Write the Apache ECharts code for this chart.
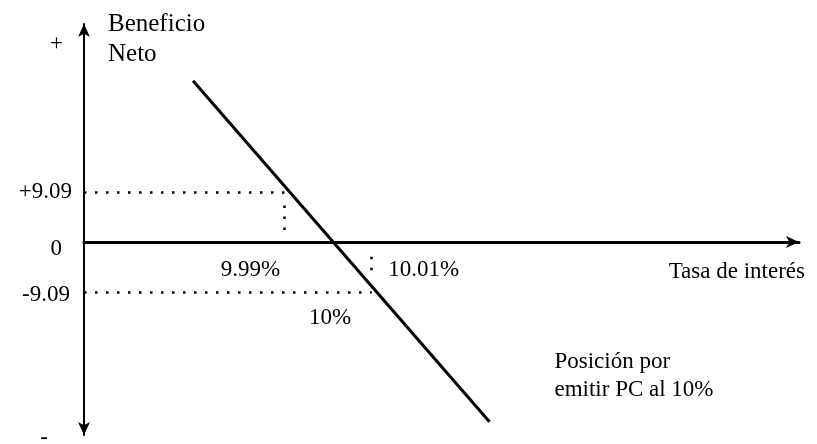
<!DOCTYPE html>
<html>
<head>
<meta charset="utf-8">
<script src="https://cdn.jsdelivr.net/npm/echarts@6/dist/echarts.min.js"></script>
<style>
  html, body { margin: 0; padding: 0; background: #fff; }
  #chart { width: 817px; height: 444px; }
</style>
</head>
<body>
<div id="chart"></div>
<script>
// Net benefit of issuing at 10% as a function of the market interest rate
const lineRates = [9.969, 10.037];
const lineBenefit = [29.27, -32.7];

// Reference points marked on the chart
const refRates = [9.99, 10.0, 10.01];
const refBenefit = [9.09, 0, -9.09];
const refLabels = ['9.99%', '10%', '10.01%'];

// Caption for the position line
const positionCaption = 'Posición por\nemitir PC al 10%';

// Y axis tick labels
const yTickValues = [36.36, 9.09, 0, -9.09, -35.1];
const yTickLabels = ['+', '+9.09', '0', '-9.09', '-'];

// Short dotted drop lines (rate, from, to)
const dropRates = [9.99, 10.01];
const dropFrom = [6.6, -2.7];
const dropTo = [0.8, -6.5];

const xMin = 9.944, xMax = 10.108, yMin = -35.1, yMax = 39.6;

const FONT = '"Liberation Serif", "Times New Roman", serif';
const FS = 23;

const chart = echarts.init(document.getElementById('chart'), null, { renderer: 'canvas' });

const dotted = { color: '#000', width: 2.5, type: [2.5, 8.5] };

const guideLines = [
  [{ coord: [xMin, refBenefit[0]] }, { coord: [refRates[0], refBenefit[0]] }],
  [{ coord: [xMin, refBenefit[2]] }, { coord: [refRates[2], refBenefit[2]] }],
  [{ coord: [dropRates[0], dropFrom[0]] }, { coord: [dropRates[0], dropTo[0]] }],
  [{ coord: [dropRates[1], dropFrom[1]] }, { coord: [dropRates[1], dropTo[1]] }]
];

// label style per y tick (small nudges, as in the hand-set original)
const yRich = {
  t0: { padding: [4, 9, 0, 0] },
  t1: { padding: [0, 0, 0, 0] },
  t2: { padding: [14, 10, 0, 0] },
  t3: { padding: [6, 2, 0, 0] },
  t4: { padding: [6, 24, 0, 0] }
};
Object.keys(yRich).forEach(k => {
  yRich[k].fontFamily = FONT; yRich[k].fontSize = FS; yRich[k].color = '#000';
});

const refOffsets = [[-34, 28], [2, 26], [52, 28]];
const refAnchorY = [0, refBenefit[2], 0];
const lastIdx = lineRates.length - 1;

const noteData = refRates.map((r, i) => ({
  value: [r, refAnchorY[i]],
  label: {
    show: true,
    formatter: refLabels[i],
    position: 'inside',
    offset: refOffsets[i],
    fontFamily: FONT, fontSize: FS, color: '#000'
  }
}));
noteData.push({
  value: [lineRates[lastIdx], lineBenefit[lastIdx]],
  label: {
    show: true,
    formatter: positionCaption,
    position: 'inside',
    align: 'left',
    verticalAlign: 'middle',
    offset: [65, -46],
    fontFamily: FONT, fontSize: FS, color: '#000', lineHeight: 28
  }
});

chart.setOption({
  animation: false,
  backgroundColor: '#fff',
  grid: { left: 84, right: 18, top: 24, bottom: 9, outerBoundsMode: 'none', containLabel: false },
  xAxis: {
    type: 'value',
    min: xMin,
    max: xMax,
    name: 'Tasa de interés',
    nameLocation: 'end',
    nameGap: 6,
    nameTextStyle: {
      fontFamily: FONT, fontSize: FS, color: '#000',
      align: 'right', verticalAlign: 'top', padding: [19, 0, 0, 0]
    },
    axisLine: {
      onZero: true,
      symbol: ['none', 'arrow'],
      symbolSize: [9, 13],
      lineStyle: { color: '#000', width: 3 }
    },
    axisTick: { show: false },
    axisLabel: { show: false },
    splitLine: { show: false }
  },
  yAxis: {
    type: 'value',
    min: yMin,
    max: yMax,
    name: 'Beneficio\nNeto',
    nameLocation: 'end',
    nameGap: 15,
    nameTextStyle: {
      fontFamily: FONT, fontSize: 25, color: '#000', lineHeight: 30,
      align: 'left', verticalAlign: 'top', padding: [0, 0, 0, 24]
    },
    axisLine: {
      show: true,
      onZero: false,
      symbol: ['arrow', 'arrow'],
      symbolSize: [9, 13],
      lineStyle: { color: '#000', width: 2 }
    },
    axisTick: { show: false },
    splitLine: { show: false },
    axisLabel: {
      show: true,
      margin: 12,
      customValues: yTickValues,
      showMinLabel: true,
      showMaxLabel: true,
      formatter: function (v) {
        for (let i = 0; i < yTickValues.length; i++) {
          if (Math.abs(yTickValues[i] - v) < 1e-6) return '{t' + i + '|' + yTickLabels[i] + '}';
        }
        return '';
      },
      rich: yRich
    }
  },
  series: [
    {
      type: 'line',
      silent: true,
      symbol: 'none',
      data: lineRates.map((r, i) => [r, lineBenefit[i]]),
      lineStyle: { color: '#000', width: 3 },
      markLine: {
        silent: true,
        symbol: 'none',
        label: { show: false },
        lineStyle: dotted,
        data: guideLines
      }
    },
    {
      type: 'scatter',
      silent: true,
      symbolSize: 0,
      itemStyle: { opacity: 1 },
      data: noteData
    }
  ]
});
</script>
</body>
</html>
